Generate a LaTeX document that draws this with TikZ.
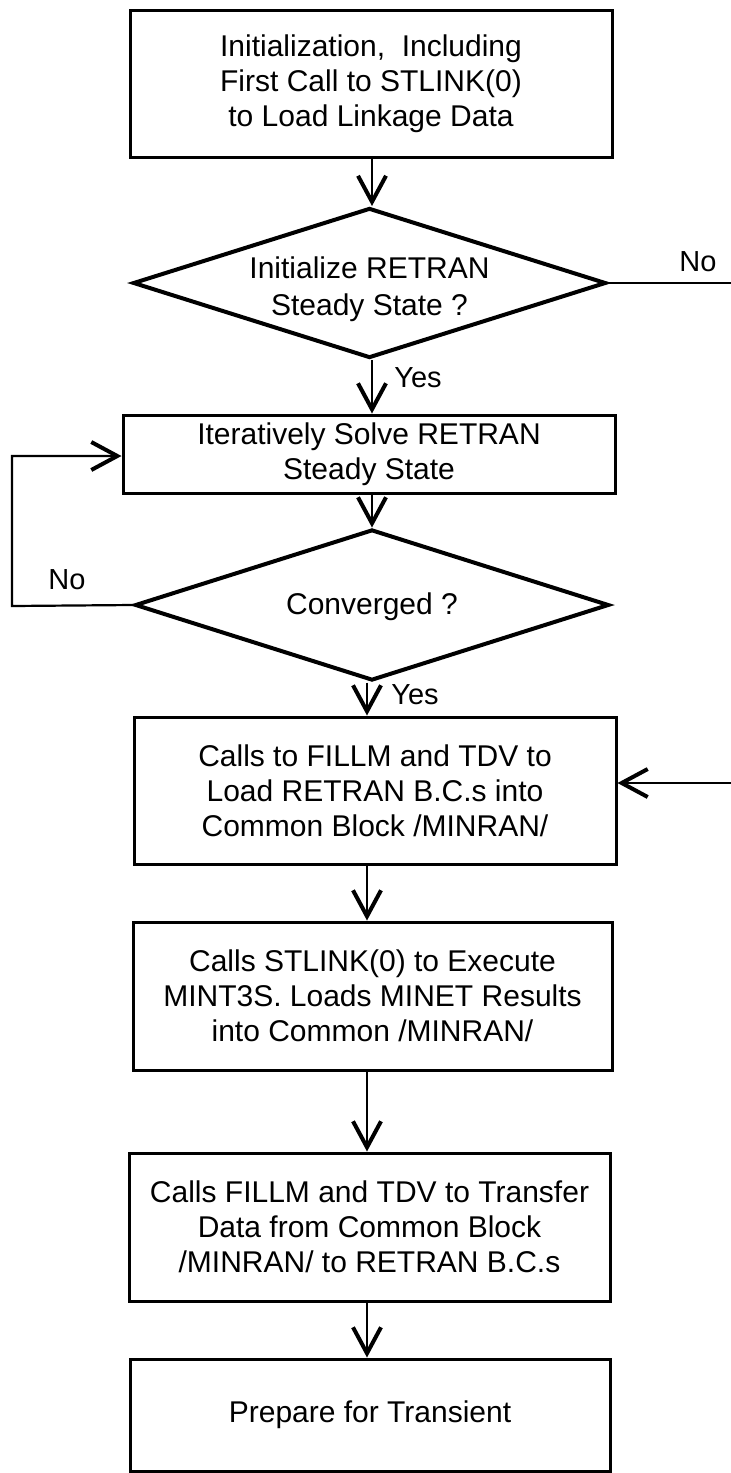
\documentclass[tikz,border=0pt]{standalone}
\usepackage{fontspec}
\setmainfont{Liberation Sans}
\usetikzlibrary{shapes.geometric,arrows.meta}
\begin{document}
\begin{tikzpicture}[x=1pt,y=-1pt,
  procbox/.style={draw=black,line width=3pt,rectangle,inner sep=0pt,align=center,
    font=\fontsize{30}{35}\selectfont},
  decision/.style={draw=black,line width=4pt,diamond,inner sep=0pt},
  dtext/.style={align=center,inner sep=0pt,font=\fontsize{30}{37}\selectfont},
  arr/.style={line width=2.2pt,-{Straight Barb[length=26pt,width=28pt,line width=4pt]}},
  conn/.style={line width=2.2pt},
  lbl/.style={font=\fontsize{29}{34}\selectfont,inner sep=0pt}]
\fill[white] (0,0) rectangle (731,1473);
\useasboundingbox (0,0) rectangle (731,1473);

\node[procbox,minimum width=482pt,minimum height=147pt] (b1) at (371,83.5)
  {Initialization,\ \ Including\\First Call to STLINK(0)\\to Load Linkage Data};
\node[decision,minimum width=473pt,minimum height=150pt] (d1) at (369.5,283) {};
\node[dtext] (d1t) at (369.5,289) {Initialize RETRAN\\Steady State ?};
\node[procbox,minimum width=492pt,minimum height=78pt] (b2) at (369,454)
  {Iteratively Solve RETRAN\\Steady State};
\node[decision,minimum width=474pt,minimum height=151pt] (d2) at (372,605) {};
\node[dtext] (d2t) at (372,607) {Converged ?};
\node[procbox,minimum width=482pt,minimum height=147pt] (b3) at (375,790.5)
  {Calls to FILLM and TDV to\\Load RETRAN B.C.s into\\Common Block /MINRAN/};
\node[procbox,minimum width=479pt,minimum height=148pt] (b4) at (372.5,996)
  {Calls STLINK(0) to Execute\\MINT3S. Loads MINET Results\\into Common /MINRAN/};
\node[procbox,minimum width=481pt,minimum height=148pt] (b5) at (369.5,1227)
  {Calls FILLM and TDV to Transfer\\Data from Common Block\\/MINRAN/ to RETRAN B.C.s};
\node[procbox,minimum width=480pt,minimum height=112pt] (b6) at (370,1415)
  {Prepare for Transient};

% helper coordinates
\coordinate (xa) at (372,0);
\coordinate (xb) at (367,0);
\coordinate (noR) at (731,283);
\coordinate (inR) at (731,783);
\coordinate (lb) at (12,606);
\coordinate (lt) at (12,456);

% labels
\node[lbl] (no1) at (698,262) {No};
\node[lbl] (no2) at (67,580) {No};
\node[lbl] (yes1) at (418,378) {Yes};
\node[lbl] (yes2) at (415,695) {Yes};

% connectors
\draw[arr] (b1.south -| xa) -- (d1.north -| xa);
\draw[arr] (d1.south -| xa) -- (b2.north -| xa);
\draw[arr] (b2.south -| xa) -- (d2.north -| xa);
\draw[arr] (d2.south -| xb) -- (b3.north -| xb);
\draw[arr] (b3.south -| xb) -- (b4.north -| xb);
\draw[arr] (b4.south -| xb) -- (b5.north -| xb);
\draw[arr] (b5.south -| xb) -- (b6.north -| xb);
\draw[conn] (d1.east) -- (noR);
\draw[arr] (inR) -- (b3.east |- inR);
\draw[arr] (d2.west) -- (lb) -- (lt) -- (b2.west |- lt);
\end{tikzpicture}
\end{document}
